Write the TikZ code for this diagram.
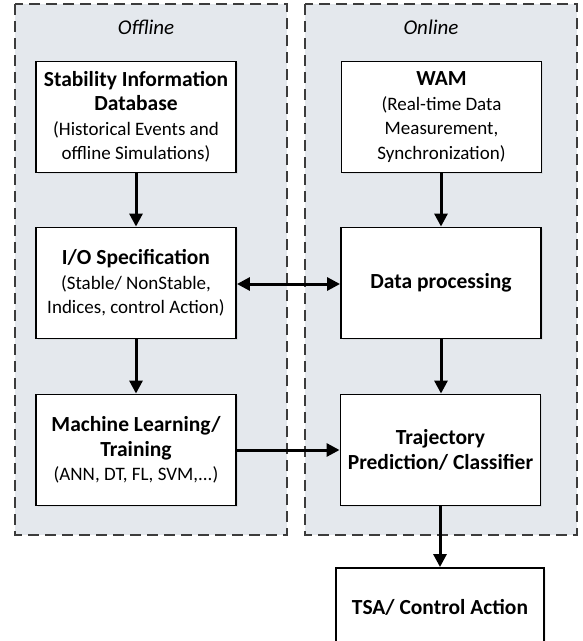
\documentclass[tikz,border=0pt]{standalone}
\usepackage{fontspec}
\setmainfont{Carlito}
\usetikzlibrary{positioning, arrows.meta, shadows}

\definecolor{panelgray}{RGB}{228,232,237}
\definecolor{dashgray}{RGB}{60,60,60}
\newcommand{\blocktitle}[1]{{\fontsize{21.5}{24.5}\selectfont\bfseries #1}}

\begin{document}
\begin{tikzpicture}[x=1pt, y=-1pt,
        every node/.style={font=\fontsize{19}{24.5}\selectfont},
        panel/.style={draw=dashgray, fill=panelgray, line width=1.1pt, dash pattern=on 11pt off 6pt},
        block/.style={draw=black, fill=white, line width=1.9pt, minimum width=200pt, minimum height=111pt, align=center, inner sep=2pt,
            drop shadow={opacity=0.12, shadow xshift=1.5pt, shadow yshift=-1.5pt}},
        flow/.style={line width=3pt, -{Triangle[length=13pt, width=13pt]}},
        flowboth/.style={line width=3pt, {Triangle[length=13pt, width=13pt]}-{Triangle[length=13pt, width=13pt]}}]
            \clip (0, 0) rectangle (583, 641);

            % offline / online panels
            \draw[panel] (15, 4) rectangle (287, 535);
            \draw[panel] (305, 4) rectangle (577, 535);
            \node[font=\fontsize{21}{24}\selectfont\itshape] (offline) at (146, 27) {Offline};
            \node[font=\fontsize{21}{24}\selectfont\itshape] (online) at (431, 27) {Online};

            \node[block] (database) at (136, 117) {\blocktitle{Stability Information}\\\blocktitle{Database}\\(Historical Events and\\offline Simulations)};
            \node[block] (wam) at (441.5, 117) {\blocktitle{WAM}\\(Real-time Data\\Measurement,\\Synchronization)};
            \node[block] (io_spec) at (136, 283) {\blocktitle{I/O Specification}\\(Stable/ NonStable,\\Indices, control Action)};
            \node[block] (data_proc) at (441, 283) {\blocktitle{Data processing}};
            \node[block] (learning) at (136, 450) {\blocktitle{Machine Learning/}\\\blocktitle{Training}\\(ANN, DT, FL, SVM,...)};
            \node[block] (classifier) at (440.5, 450) {\blocktitle{Trajectory}\\\blocktitle{Prediction/ Classifier}};
            \node[block, minimum width=208pt, minimum height=78pt] (tsa) at (440, 607) {\blocktitle{TSA/ Control Action}};

            \draw[flow] (database) -- (io_spec);
            \draw[flow] (io_spec) -- (learning);
            \draw[flow] (wam.south -| 441, 0) -- (data_proc.north -| 441, 0);
            \draw[flowboth] (io_spec.east |- 0, 284) -- (data_proc.west |- 0, 284);
            \draw[flow] (data_proc.south -| 441, 0) -- (classifier.north -| 441, 0);
            \draw[flow] (learning) -- (classifier);
            \draw[flow] (classifier.south -| 440, 0) -- (tsa.north -| 440, 0);
        \end{tikzpicture}
\end{document}
